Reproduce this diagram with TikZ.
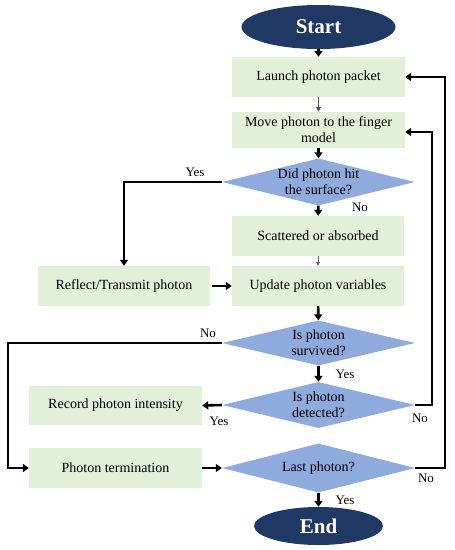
\documentclass[tikz,border=0pt]{standalone}
\usepackage{fontspec}
\setmainfont{Liberation Serif}
\usetikzlibrary{shapes.geometric,arrows.meta}
\definecolor{navy}{HTML}{203864}
\definecolor{dia}{HTML}{8FAADC}
\definecolor{boxg}{HTML}{E2F0D9}
\definecolor{grayblue}{HTML}{44546A}
\tikzset{
  term/.style={ellipse, fill=navy, text=white, font=\fontsize{21}{24}\selectfont\bfseries, inner sep=0pt},
  procbox/.style={rectangle, fill=boxg, inner sep=0pt, align=center, font=\fontsize{14}{16}\selectfont},
  decis/.style={diamond, fill=dia, inner sep=0pt, aspect=4.1, align=center, font=\fontsize{14}{16}\selectfont, minimum width=193pt},
  arr/.style={line width=2.6pt, -{Triangle[length=6pt,width=8pt]}},
  lab/.style={font=\fontsize{13}{15}\selectfont, inner sep=0pt},
}
\begin{document}
\begin{tikzpicture}[x=1pt,y=-1pt]
\useasboundingbox (0,0) rectangle (455,550);
\node[term, minimum width=154pt, minimum height=44pt] (start) at (318.5,27) {Start};
\node[procbox, minimum width=173pt, minimum height=40pt] (launch) at (318.5,77) {Launch photon packet};
\node[procbox, minimum width=173pt, minimum height=36pt] (move) at (318.5,130) {Move photon to the finger\\model};
\node[decis, minimum height=47pt] (d1) at (318.5,182) {Did photon hit\\the surface?};
\node[procbox, minimum width=172pt, minimum height=40pt] (scat) at (318,236) {Scattered or absorbed};
\node[procbox, minimum width=172pt, minimum height=40pt] (upd) at (318,286) {Update photon variables};
\node[procbox, minimum width=172pt, minimum height=40pt] (refl) at (124,286) {Reflect/Transmit photon};
\node[decis, minimum height=45pt] (d2) at (318.5,343) {Is photon\\survived?};
\node[decis, minimum height=46pt] (d3) at (318.5,405) {Is photon\\detected?};
\node[procbox, minimum width=173pt, minimum height=39pt] (rec) at (115.5,405.5) {Record photon intensity};
\node[procbox, minimum width=173pt, minimum height=40pt] (termn) at (115.5,468) {Photon termination};
\node[decis, minimum height=49pt] (d4) at (318.5,468) {Last photon?};
\node[term, minimum width=129pt, minimum height=38pt] (end) at (318.5,526) {End};

\coordinate (c1) at (124,182);
\coordinate (c2) at (8,343);
\coordinate (c3) at (432,405);
\coordinate (c4) at (445,468);

\draw[arr] (start) -- (launch);
\draw[line width=1pt, grayblue, -{Triangle[length=5pt,width=5pt]}] (launch) -- (move);
\draw[arr] (move) -- (d1);
\draw[arr] (d1) -- (scat);
\draw[line width=0.6pt, black!60, -{Triangle[length=4pt,width=4pt]}] (scat) -- (upd);
\draw[arr] (d1.west) -- (c1) -- (refl.north);
\draw[arr] ([xshift=2pt]refl.east) -- (upd.west);
\draw[arr] (upd) -- (d2);
\draw[arr] (d2.west) -- (c2) |- (termn.west);
\draw[arr] (d2) -- (d3);
\draw[arr] (d3.west) -- (rec.east);
\draw[arr] (d3.east) -- (c3) |- ([yshift=-2pt]move.east);
\draw[arr] (termn.east) -- (d4.west);
\draw[arr] (d4.east) -- (c4) |- (launch.east);
\draw[arr] (d4) -- (end);

\node[lab] (l1) at (195,172) {Yes};
\node[lab] (l2) at (360,207) {No};
\node[lab] (l3) at (208,333) {No};
\node[lab] (l4) at (345,374) {Yes};
\node[lab] (l5) at (219,421) {Yes};
\node[lab] (l6) at (420,418) {No};
\node[lab] (l7) at (426,478) {No};
\node[lab] (l8) at (345,500) {Yes};
\end{tikzpicture}
\end{document}
